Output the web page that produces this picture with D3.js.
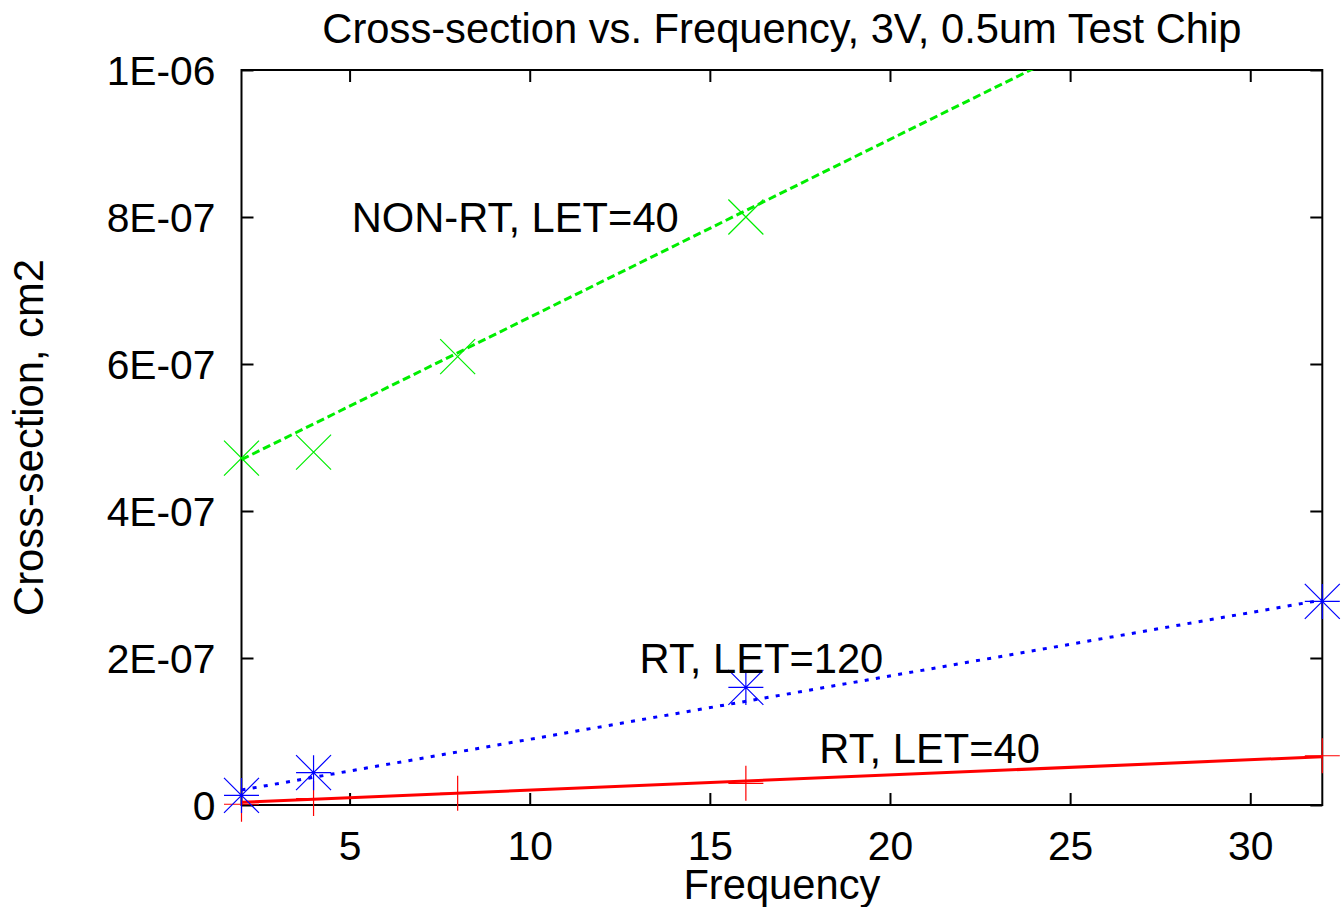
<!DOCTYPE html>
<html>
<head>
<meta charset="utf-8">
<script src="https://cdn.jsdelivr.net/npm/d3@7"></script>
<style>
  html, body { margin: 0; padding: 0; background: #fff; }
  svg { display: block; }
  text { font-family: "Liberation Sans", Arial, Helvetica, sans-serif; fill: #000; }
</style>
</head>
<body>
<svg id="chart" width="1342" height="907"></svg>
<script>
// ---- Data ----
const titleText = "Cross-section vs. Frequency, 3V, 0.5um Test Chip";
const xLabelText = "Frequency";
const yLabelText = "Cross-section, cm2";

const xDomain = [2, 32];
const yDomain = [0, 1e-6];
const xTicks = [5, 10, 15, 20, 25, 30];
const yTicks = [0, 2e-7, 4e-7, 6e-7, 8e-7, 1e-6];
const yTickLabels = ["0", "2E-07", "4E-07", "6E-07", "8E-07", "1E-06"];

// measured points
const rt40Freq = [2, 4, 8, 16, 32];
const rt40Vals = [1e-9, 8.8e-9, 1.6e-8, 2.95e-8, 6.7e-8];
const rt120Freq = [2, 4, 16, 32];
const rt120Vals = [1.3e-8, 4.4e-8, 1.6e-7, 2.77e-7];
const nonrtFreq = [2, 4, 8, 16];
const nonrtVals = [4.72e-7, 4.8e-7, 6.1e-7, 8.0e-7];

// fitted lines (end points)
const rt40FitFreq = [2, 32];
const rt40FitVals = [3.7e-9, 6.57e-8];
const rt120FitFreq = [2, 32];
const rt120FitVals = [2.04e-8, 2.79e-7];
const nonrtFitFreq = [2, 32];
const nonrtFitVals = [4.70e-7, 1.196e-6];

// annotation labels (data coordinates)
const labelTexts = ["NON-RT, LET=40", "RT, LET=120", "RT, LET=40"];
const labelFreq = [5.06, 13.05, 18.04];
const labelVals = [8.0e-7, 2.0e-7, 7.7e-8];

// ---- Drawing ----
const svg = d3.select("#chart");
const pLeft = 241.5, pRight = 1322.3, pTop = 70, pBottom = 805;
const x = d3.scaleLinear().domain(xDomain).range([pLeft, pRight]);
const y = d3.scaleLinear().domain(yDomain).range([pBottom, pTop]);
const FS = 40.8;
const FL = 41.7;

svg.append("defs").append("clipPath").attr("id", "plotclip")
  .append("rect").attr("x", pLeft).attr("y", pTop)
  .attr("width", pRight - pLeft).attr("height", pBottom - pTop);

// axes with inward ticks
const tickLen = 12;
const gB = svg.append("g").attr("transform", `translate(0,${pBottom})`)
  .call(d3.axisBottom(x).tickValues(xTicks).tickSize(-tickLen).tickSizeOuter(0).tickFormat(d3.format("d")));
const gT = svg.append("g").attr("transform", `translate(0,${pTop})`)
  .call(d3.axisTop(x).tickValues(xTicks).tickSize(-tickLen).tickSizeOuter(0).tickFormat(""));
const gL = svg.append("g").attr("transform", `translate(${pLeft},0)`)
  .call(d3.axisLeft(y).tickValues(yTicks).tickSize(-tickLen).tickSizeOuter(0)
    .tickFormat(d => yTickLabels[yTicks.indexOf(d)]));
const gR = svg.append("g").attr("transform", `translate(${pRight},0)`)
  .call(d3.axisRight(y).tickValues(yTicks).tickSize(-tickLen).tickSizeOuter(0).tickFormat(""));
[gB, gT, gL, gR].forEach(g => {
  g.select(".domain").remove();
  g.selectAll(".tick line").attr("stroke", "#000").attr("stroke-width", 2);
  g.attr("font-family", null).attr("font-size", null);
});
gB.selectAll("text").attr("y", 55).attr("dy", null).style("font-size", FS + "px").attr("fill", "#000");
gL.selectAll("text").attr("x", -26).attr("dy", "0.36em").style("font-size", FS + "px").attr("fill", "#000");

svg.append("rect").attr("x", pLeft).attr("y", pTop)
  .attr("width", pRight - pLeft).attr("height", pBottom - pTop)
  .attr("fill", "none").attr("stroke", "#000").attr("stroke-width", 2);

// fit lines
const line = d3.line().x(d => x(d[0])).y(d => y(d[1]));
const fits = [
  { f: rt40FitFreq, v: rt40FitVals, color: "#ff0000", dash: null, w: 3 },
  { f: rt120FitFreq, v: rt120FitVals, color: "#0000ff", dash: "4,7.3", w: 3 },
  { f: nonrtFitFreq, v: nonrtFitVals, color: "#00ee00", dash: "8,4", w: 3 }
];
const gLines = svg.append("g").attr("clip-path", "url(#plotclip)");
fits.forEach(s => {
  gLines.append("path")
    .attr("d", line(s.f.map((f, i) => [f, s.v[i]])))
    .attr("fill", "none").attr("stroke", s.color)
    .attr("stroke-width", s.w)
    .attr("stroke-dasharray", s.dash);
});

// markers
const h = 17.5;
const plusPath = `M${-h},0H${h}M0,${-h}V${h}`;
const crossPath = `M${-h},${-h}L${h},${h}M${-h},${h}L${h},${-h}`;
const starPath = plusPath + crossPath;
const series = [
  { f: rt40Freq, v: rt40Vals, color: "#ff0000", p: plusPath },
  { f: rt120Freq, v: rt120Vals, color: "#0000ff", p: starPath },
  { f: nonrtFreq, v: nonrtVals, color: "#00ee00", p: crossPath }
];
series.forEach(s => {
  svg.append("g").selectAll("path")
    .data(s.f.map((f, i) => [f, s.v[i]]))
    .join("path")
    .attr("transform", d => `translate(${x(d[0])},${y(d[1])})`)
    .attr("d", s.p)
    .attr("fill", "none")
    .attr("stroke", s.color)
    .attr("stroke-width", 1.2);
});

// annotation labels
svg.append("g").selectAll("text")
  .data(labelTexts)
  .join("text")
  .attr("x", (d, i) => x(labelFreq[i]))
  .attr("y", (d, i) => y(labelVals[i]))
  .attr("dy", "0.36em")
  .style("font-size", FL + "px")
  .text(d => d);

// title and axis labels
svg.append("text").attr("x", (pLeft + pRight) / 2).attr("y", 43)
  .attr("text-anchor", "middle").style("font-size", FL + "px").text(titleText);
svg.append("text").attr("x", (pLeft + pRight) / 2).attr("y", 899)
  .attr("text-anchor", "middle").style("font-size", FL + "px").text(xLabelText);
svg.append("text")
  .attr("transform", `translate(43,${(pTop + pBottom) / 2}) rotate(-90)`)
  .attr("text-anchor", "middle").style("font-size", FL + "px").text(yLabelText);
</script>
</body>
</html>
